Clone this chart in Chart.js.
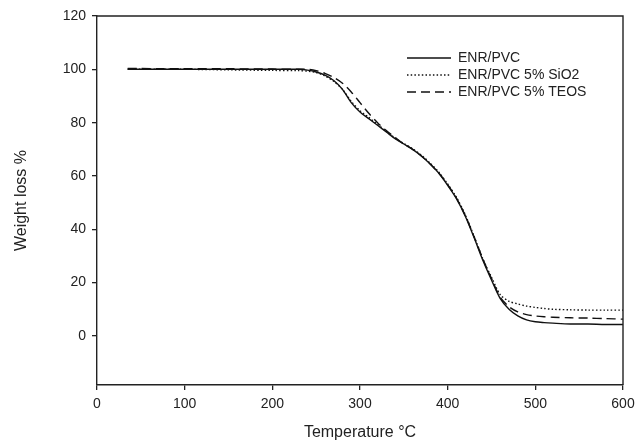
<!DOCTYPE html>
<html>
<head>
<meta charset="utf-8">
<script src="https://cdn.jsdelivr.net/npm/chart.js@4/dist/chart.umd.min.js"></script>
<style>
  html, body { margin: 0; padding: 0; background: #fff; }
  #wrap { width: 636px; height: 444px; }
</style>
</head>
<body>
<div id="wrap"><canvas id="c" width="636" height="444"></canvas></div>
<script>
const temperatures = [35, 50, 100, 150, 200, 230, 240, 250, 260, 270, 280, 290, 300, 310, 320, 330, 340, 350, 360, 370, 380, 390, 400, 410, 420, 430, 440, 450, 460, 470, 480, 490, 500, 510, 520, 540, 560, 580, 600];
const enrPvc      = [100, 100, 100, 100, 100, 100, 99.7, 99, 97.8, 95.8, 92.5, 87.5, 84, 81.5, 79, 76.5, 74, 72, 70, 67.5, 64.5, 61, 56.5, 51.5, 45, 37, 28.5, 21, 14, 10, 7.5, 6, 5.3, 5, 4.8, 4.5, 4.5, 4.3, 4.3];
const enrPvcSiO2  = [100, 100, 100, 99.8, 99.6, 99.5, 99.3, 98.8, 97.5, 95.5, 92.5, 88, 84.5, 82, 79.3, 76.8, 74.2, 72.2, 70.2, 67.8, 64.8, 61.4, 57, 52, 45.5, 37.5, 29, 22, 15.5, 13, 12, 11.2, 10.7, 10.3, 10, 9.8, 9.7, 9.7, 9.7];
const enrPvcTeos  = [100.3, 100.3, 100.2, 100.2, 100.1, 100, 100, 99.5, 98.5, 97, 94.8, 91.5, 87.5, 83.5, 80, 77, 74.5, 72, 70, 67.5, 64.5, 61, 56.7, 51.7, 45.2, 37.3, 29, 21.5, 14.5, 11, 9, 8, 7.5, 7.2, 7, 6.8, 6.7, 6.5, 6.3];
const seriesLabels = ['ENR/PVC', 'ENR/PVC 5% SiO2', 'ENR/PVC 5% TEOS'];
const yTickValues = [0, 20, 40, 60, 80, 100, 120];

const toXY = arr => temperatures.map((t, i) => ({ x: t, y: arr[i] }));

const frame = {
  id: 'frame',
  afterLayout(chart) {
    const lg = chart.legend;
    if (lg) { lg.left = 404; lg.top = 48; }
  },
  afterDraw(chart) {
    const a = chart.chartArea, ctx = chart.ctx;
    ctx.save();
    ctx.strokeStyle = '#222';
    ctx.lineWidth = 1.4;
    ctx.beginPath();
    ctx.moveTo(a.left, a.top); ctx.lineTo(a.right, a.top); ctx.lineTo(a.right, a.bottom);
    ctx.stroke();
    ctx.restore();
  }
};

const common = { borderColor: '#111', backgroundColor: '#111', borderWidth: 1.4, pointRadius: 0, pointStyle: 'line', tension: 0.3, fill: false };

new Chart(document.getElementById('c'), {
  type: 'line',
  data: {
    datasets: [
      Object.assign({ label: seriesLabels[0], data: toXY(enrPvc) }, common),
      Object.assign({ label: seriesLabels[1], data: toXY(enrPvcSiO2), borderDash: [1.5, 2.2] }, common),
      Object.assign({ label: seriesLabels[2], data: toXY(enrPvcTeos), borderDash: [9, 5] }, common)
    ]
  },
  plugins: [frame],
  options: {
    responsive: false,
    animation: false,
    devicePixelRatio: 1,
    layout: { padding: { left: 0, right: 0, top: 16, bottom: 0 } },
    plugins: {
      tooltip: { enabled: false },
      legend: {
        position: 'chartArea',
        align: 'start',
        labels: {
          usePointStyle: true,
          pointStyleWidth: 44,
          padding: 3,
          color: '#222',
          font: { family: 'Liberation Sans, Arial, sans-serif', size: 14 },
          generateLabels(chart) {
            const items = Chart.defaults.plugins.legend.labels.generateLabels(chart);
            items.forEach(it => {
              const ds = chart.data.datasets[it.datasetIndex];
              it.lineDash = ds.borderDash || [];
              it.lineWidth = 1.4;
              it.strokeStyle = '#111';
            });
            return items;
          }
        }
      }
    },
    scales: {
      x: {
        type: 'linear',
        min: 0, max: 600,
        ticks: { stepSize: 100, color: '#222', padding: 6, maxRotation: 0, font: { family: 'Liberation Sans, Arial, sans-serif', size: 14 } },
        grid: { display: true, drawOnChartArea: false, tickLength: 5, color: '#222', lineWidth: 1.3 },
        border: { display: true, color: '#222', width: 1.4 },
        title: { display: true, text: 'Temperature °C', color: '#222', padding: { top: 2, bottom: 2 }, font: { family: 'Liberation Sans, Arial, sans-serif', size: 16 } },
        afterFit(s) { s.height = 59; s.paddingRight = 13; s.paddingLeft = 0; }
      },
      y: {
        type: 'linear',
        min: -18.4, max: 120,
        afterBuildTicks(s) { s.ticks = yTickValues.map(v => ({ value: v })); },
        ticks: { color: '#222', padding: 6, font: { family: 'Liberation Sans, Arial, sans-serif', size: 14 } },
        grid: { display: true, drawOnChartArea: false, tickLength: 5, color: '#222', lineWidth: 1.3 },
        border: { display: true, color: '#222', width: 1.4 },
        title: { display: true, text: 'Weight loss %', color: '#222', padding: { top: 12, bottom: 0 }, font: { family: 'Liberation Sans, Arial, sans-serif', size: 16 } },
        afterFit(s) { s.width = 97; s.paddingTop = 0; s.paddingBottom = 0; }
      }
    }
  }
});
</script>
</body>
</html>
